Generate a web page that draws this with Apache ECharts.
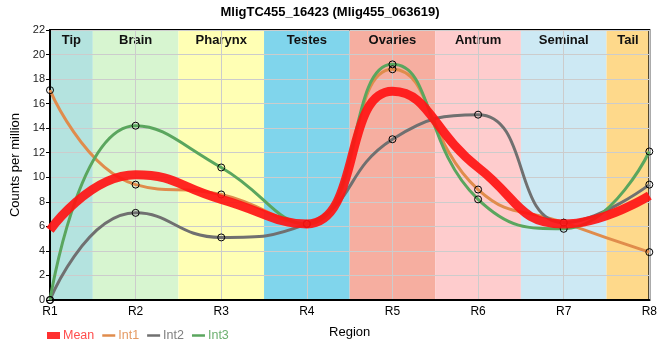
<!DOCTYPE html>
<html><head><meta charset="utf-8">
<script src="https://cdn.jsdelivr.net/npm/echarts@6/dist/echarts.min.js"></script>
<style>html,body{margin:0;padding:0;background:#fff}#c{width:660px;height:360px}</style>
</head><body><div id="c"></div>
<script>
const categories = ['R1','R2','R3','R4','R5','R6','R7','R8'];
const regions = ['Tip','Brain','Pharynx','Testes','Ovaries','Antrum','Seminal','Tail'];
const regionColors = ['#b4e3df','#d7f5d0','#ffffb4','#80d5ec','#f6aea0','#fecccd','#cde9f4','#fed98b'];
const yTicks = [0,2,4,6,8,10,12,14,16,18,20,22];
const mean = [5.7,10.2,8.2,6.2,17.0,10.8,6.2,8.5];
const int1 = [17.1,9.4,8.6,6.2,18.8,9.0,6.3,3.9];
const int2 = [0,7.1,5.1,6.2,13.1,15.1,6.3,9.4];
const int3 = [0,14.2,10.8,6.2,19.2,8.2,5.8,12.1];

const FONT = "'Liberation Sans', Arial, sans-serif";
const pairs = arr => arr.map((v,i)=>[i,v]);
const bandData = regions.map((r,i)=>[Math.max(0,i-0.5), Math.min(categories.length-1,i+0.5), i]);

const chart = echarts.init(document.getElementById('c'));
const lineSeries = (name, data, color) => ({
  name, type:'line', data:pairs(data), smooth:0.5, z:3,
  symbol:'circle', symbolSize:7, showSymbol:true,
  lineStyle:{color, width:3},
  itemStyle:{color:'rgba(0,0,0,0)', borderColor:'#000', borderWidth:1},
  emphasis:{disabled:true}
});
const lineIcon = 'path://M0,0H13V2.5H0Z';
chart.setOption({
  animation:false,
  textStyle:{fontFamily:FONT},
  title:{text:'MligTC455_16423 (Mlig455_063619)', left:'center', top:1,
    textStyle:{fontSize:13, fontWeight:'bold', color:'#000', fontFamily:FONT}},
  grid:{left:50, right:10, top:30, bottom:60, show:true, borderColor:'#000', borderWidth:2, backgroundColor:'transparent'},
  legend:{left:42, top:324, itemWidth:13, itemHeight:7, itemGap:8,
    textStyle:{fontSize:12.5, fontFamily:FONT, padding:[0,0,0,-2]},
    data:[
      {name:'Mean', icon:'rect', itemStyle:{color:'#ff3030', borderWidth:0}, textStyle:{color:'#ff4d4d'}},
      {name:'Int1', icon:lineIcon, itemStyle:{color:'#e08c4c', borderColor:'#e08c4c', borderWidth:0}, textStyle:{color:'#e59a63'}},
      {name:'Int2', icon:lineIcon, itemStyle:{color:'#707070', borderColor:'#707070', borderWidth:0}, textStyle:{color:'#808080'}},
      {name:'Int3', icon:lineIcon, itemStyle:{color:'#5aa65e', borderColor:'#5aa65e', borderWidth:0}, textStyle:{color:'#6cb06f'}}
    ]},
  xAxis:{type:'value', min:0, max:categories.length-1, interval:1,
    name:'Region', nameLocation:'middle', nameGap:26,
    nameTextStyle:{fontSize:13, color:'#000', fontFamily:FONT},
    axisLine:{show:true, lineStyle:{color:'#000', width:2}},
    axisTick:{show:false},
    axisLabel:{formatter:v=>categories[v]||'', fontSize:12, color:'#000', margin:6, fontFamily:FONT},
    splitLine:{show:true, lineStyle:{color:'#cccccc', width:1}}},
  yAxis:{type:'value', min:0, max:22, interval:2,
    name:'Counts per million', nameLocation:'middle', nameGap:24,
    nameTextStyle:{fontSize:13, color:'#000', fontFamily:FONT},
    axisLine:{show:true, lineStyle:{color:'#000', width:2}},
    axisTick:{show:true, length:4, lineStyle:{color:'#000'}},
    axisLabel:{fontSize:11, color:'#222', margin:5, fontFamily:FONT,
      formatter:v=>yTicks.includes(v)?String(v):''},
    splitLine:{show:true, lineStyle:{color:'#cccccc', width:1}}},
  series:[
    {type:'custom', name:'bands', z:-1, silent:true, data:bandData,
      encode:{x:[0,1]},
      renderItem:(params, api)=>{
        const p0 = api.coord([api.value(0), 22]);
        const p1 = api.coord([api.value(1), 0]);
        const idx = api.value(2);
        return {type:'group', children:[
          {type:'rect', shape:{x:p0[0], y:p0[1], width:p1[0]-p0[0], height:p1[1]-p0[1]},
            style:{fill:regionColors[idx]}},
          {type:'text', style:{text:regions[idx], x:(p0[0]+p1[0])/2, y:p0[1]+4,
            textAlign:'center', textVerticalAlign:'top', fill:'#111',
            font:"bold 13px 'Liberation Sans', Arial, sans-serif"}}
        ]};
      }},
    lineSeries('Int1', int1, '#e08c4c'),
    lineSeries('Int2', int2, '#707070'),
    lineSeries('Int3', int3, '#5aa65e'),
    {name:'Mean', type:'line', data:pairs(mean), smooth:0.5, z:5, showSymbol:false, symbol:'none',
      lineStyle:{color:'rgba(255,20,20,0.92)', width:9}, itemStyle:{color:'#ff3030'}, emphasis:{disabled:true}}
  ]
});
</script></body></html>
